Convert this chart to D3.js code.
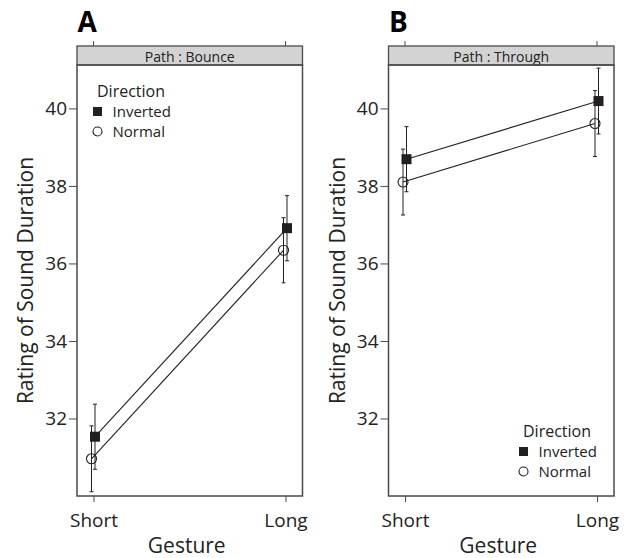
<!DOCTYPE html>
<html>
<head>
<meta charset="utf-8">
<script src="https://cdn.jsdelivr.net/npm/d3@7"></script>
<style>
  body { margin: 0; background: #fff; }
  svg { font-family: "Open Sans", sans-serif; }
</style>
</head>
<body>
<script>
// data
const gestures = ["Short", "Long"];
const directions = ["Inverted", "Normal"];
const yTicks = [32, 34, 36, 38, 40];

const bounceInverted = [31.53, 36.91];
const bounceNormal = [30.96, 36.34];
const throughInverted = [38.69, 40.19];
const throughNormal = [38.10, 39.61];

const bounceInvertedSe = [0.84, 0.84];
const bounceNormalSe = [0.85, 0.84];
const throughInvertedSe = [0.84, 0.85];
const throughNormalSe = [0.85, 0.85];

const ink = "#231f20";
const frame = "#4a4a4a";

const W = 636, H = 558;
const plotTop = 65, plotBottom = 496, stripTop = 46;
const panelW = 225.5;

const svg = d3.select("body").append("svg")
    .attr("width", W)
    .attr("height", H);

const y = d3.scaleLinear().domain([30.0, 41.12]).range([plotBottom, plotTop]);
const x = d3.scalePoint().domain(gestures).range([16.5, 208.5]);
const dodge = { Inverted: 1.5, Normal: -2 };

function drawPanel(x0, letter, path, inv, norm, invSe, normSe, legendPos) {
    const g = svg.append("g").attr("transform", "translate(" + x0 + ",0)");

    // panel letter
    svg.append("text")
        .attr("x", x0 + 0.5)
        .attr("y", 31.5)
        .attr("font-weight", 700)
        .attr("font-size", 28)
        .attr("fill", "#000")
        .text(letter);

    // strip
    g.append("rect")
        .attr("x", 0).attr("y", stripTop)
        .attr("width", panelW).attr("height", plotTop - stripTop)
        .attr("fill", "#d3d3d3")
        .attr("stroke", frame).attr("stroke-width", 1.3);
    g.append("text")
        .attr("x", panelW / 2)
        .attr("y", 61.5)
        .attr("text-anchor", "middle")
        .attr("font-size", 14)
        .attr("fill", "#222")
        .text("Path : " + path);

    // frame
    g.append("rect")
        .attr("x", 0).attr("y", plotTop)
        .attr("width", panelW).attr("height", plotBottom - plotTop)
        .attr("fill", "none")
        .attr("stroke", frame).attr("stroke-width", 1.5);

    // left axis
    const yAxis = g.append("g")
        .call(d3.axisLeft(y).tickValues(yTicks).tickSize(8).tickPadding(2));
    yAxis.select(".domain").remove();
    yAxis.selectAll("line").attr("stroke", frame);
    yAxis.selectAll("text")
        .attr("font-family", "'Open Sans', sans-serif")
        .attr("font-size", 19).attr("fill", "#222");

    // bottom axis
    const xAxis = g.append("g")
        .attr("transform", "translate(0," + plotBottom + ")")
        .call(d3.axisBottom(x).tickSize(6).tickPadding(12));
    xAxis.select(".domain").remove();
    xAxis.selectAll("line").attr("stroke", frame);
    xAxis.selectAll("text")
        .attr("font-family", "'Open Sans', sans-serif")
        .attr("font-size", 19).attr("fill", "#222");

    // top ticks
    g.append("g")
        .selectAll("line")
        .data(gestures)
        .join("line")
        .attr("x1", d => x(d)).attr("x2", d => x(d))
        .attr("y1", stripTop - 5).attr("y2", stripTop)
        .attr("stroke", frame);

    // axis titles
    g.append("text")
        .attr("x", panelW / 2 - 3)
        .attr("y", 553)
        .attr("text-anchor", "middle")
        .attr("font-size", 21)
        .attr("fill", "#222")
        .text("Gesture");
    g.append("text")
        .attr("transform", "translate(-44," + (plotTop + plotBottom) / 2 + ") rotate(-90)")
        .attr("text-anchor", "middle")
        .attr("font-size", 21)
        .attr("fill", "#222")
        .text("Rating of Sound Duration");

    const series = [
        { dir: "Inverted", mean: inv, se: invSe },
        { dir: "Normal", mean: norm, se: normSe }
    ];

    const px = (s, i) => x(gestures[i]) + dodge[s.dir];

    // lines
    const line = d3.line()
        .x(d => d.x)
        .y(d => y(d.v));
    series.forEach(s => {
        g.append("path")
            .datum(s.mean.map((v, i) => ({ x: px(s, i), v: v })))
            .attr("d", line)
            .attr("fill", "none")
            .attr("stroke", ink)
            .attr("stroke-width", 1.1);
    });

    // error bars
    series.forEach(s => {
        const eb = g.append("g");
        s.mean.forEach((v, i) => {
            const cx = px(s, i);
            eb.append("line")
                .attr("x1", cx).attr("x2", cx)
                .attr("y1", y(v - s.se[i])).attr("y2", y(v + s.se[i]))
                .attr("stroke", ink).attr("stroke-width", 1);
            [v - s.se[i], v + s.se[i]].forEach(e => {
                eb.append("line")
                    .attr("x1", cx - 2).attr("x2", cx + 2)
                    .attr("y1", y(e)).attr("y2", y(e))
                    .attr("stroke", ink).attr("stroke-width", 1);
            });
        });
    });

    // points
    series.forEach(s => {
        s.mean.forEach((v, i) => {
            const cx = px(s, i);
            if (s.dir === "Inverted") {
                g.append("rect")
                    .attr("x", cx - 5).attr("y", y(v) - 5)
                    .attr("width", 10).attr("height", 10)
                    .attr("fill", ink);
            } else {
                g.append("circle")
                    .attr("cx", cx).attr("cy", y(v)).attr("r", 5)
                    .attr("fill", "none")
                    .attr("stroke", ink).attr("stroke-width", 1.1);
            }
        });
    });

    // legend
    const lg = g.append("g")
        .attr("transform", "translate(" + legendPos[0] + "," + legendPos[1] + ")");
    lg.append("text")
        .attr("x", 0).attr("y", 0)
        .attr("font-size", 16).attr("fill", "#222")
        .text("Direction");
    directions.forEach((d, i) => {
        const yy = 20 + i * 20;
        if (d === "Inverted") {
            lg.append("rect")
                .attr("x", -4).attr("y", yy - 4.5 - 5)
                .attr("width", 9).attr("height", 9)
                .attr("fill", ink);
        } else {
            lg.append("circle")
                .attr("cx", 0.5).attr("cy", yy - 5).attr("r", 4.5)
                .attr("fill", "none")
                .attr("stroke", ink).attr("stroke-width", 1.1);
        }
        lg.append("text")
            .attr("x", 15.5).attr("y", yy + 0.5)
            .attr("font-size", 15).attr("fill", "#222")
            .text(d);
    });
}

drawPanel(77, "A", "Bounce", bounceInverted, bounceNormal,
    bounceInvertedSe, bounceNormalSe, [20, 96.5]);
drawPanel(388.5, "B", "Through", throughInverted, throughNormal,
    throughInvertedSe, throughNormalSe, [134.5, 436.5]);
</script>
</body>
</html>
